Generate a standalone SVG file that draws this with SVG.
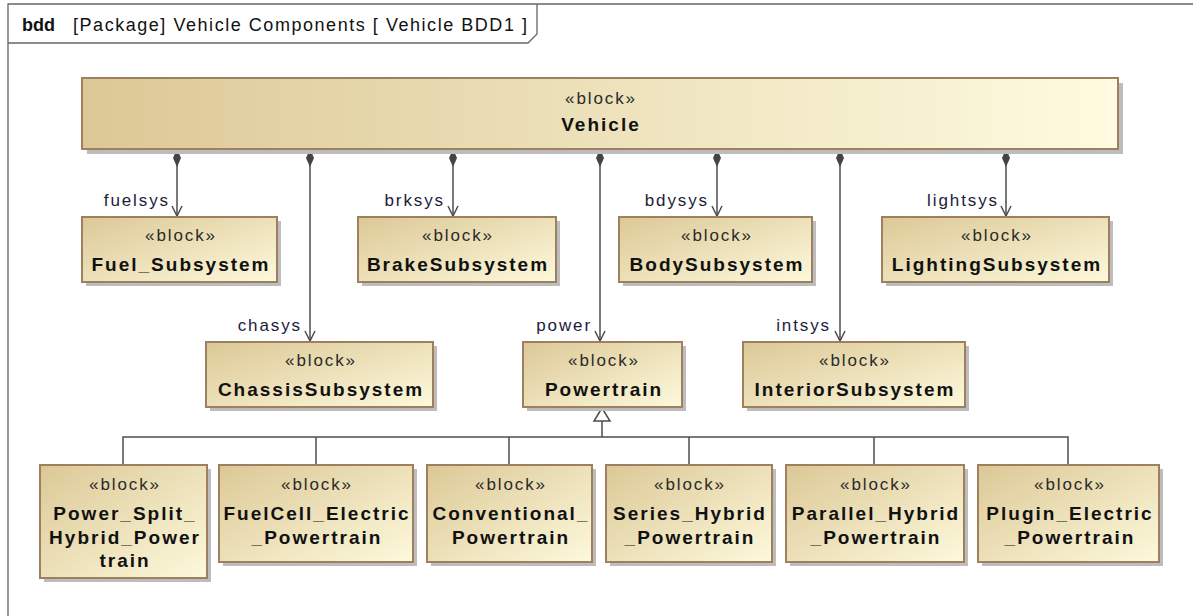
<svg xmlns="http://www.w3.org/2000/svg" width="1193" height="616" viewBox="0 0 1193 616">
<style>
.frame{fill:none;stroke:#666;stroke-width:1.3}
.blk{fill:url(#g);stroke:#9e8060;stroke-width:2}
.vblk{fill:url(#gv);stroke:#9e8060;stroke-width:2}
.sh{fill:#bdbdbd}
.st{font-family:"Liberation Sans",Arial,sans-serif;font-size:17px;fill:#2a2a2a;letter-spacing:1.9px;text-anchor:middle}
.nm{font-family:"Liberation Sans",Arial,sans-serif;font-size:19px;font-weight:bold;fill:#111;letter-spacing:2px;text-anchor:middle}
.lbl{font-family:"Liberation Sans",Arial,sans-serif;font-size:17px;fill:#1c1c38;letter-spacing:1.9px;text-anchor:end}
.hd{font-family:"Liberation Sans",Arial,sans-serif;font-size:18px;fill:#111}
.ln{stroke:#4d4d4d;stroke-width:1.5;fill:none}
.comp{marker-start:url(#dia);marker-end:url(#arr)}
</style>
<defs>
<linearGradient id="g" x1="0" y1="0" x2="1" y2="1">
<stop offset="0" stop-color="#dcc896"/>
<stop offset="1" stop-color="#fdf9dc"/>
</linearGradient>
<linearGradient id="gv" x1="0" y1="0" x2="1" y2="0">
<stop offset="0" stop-color="#dcc896"/>
<stop offset="1" stop-color="#fefbe0"/>
</linearGradient>
<marker id="dia" viewBox="0 0 18 8" refX="0" refY="4" markerWidth="18" markerHeight="8" markerUnits="userSpaceOnUse" orient="auto">
<path d="M0,4 L9,0 L18,4 L9,8 Z" fill="#444"/>
</marker>
<marker id="arr" viewBox="0 0 12 12" refX="11" refY="6" markerWidth="12" markerHeight="12" markerUnits="userSpaceOnUse" orient="auto">
<path d="M1,1 L11,6 L1,11" fill="none" stroke="#4d4d4d" stroke-width="1.5"/>
</marker>
</defs>

<g id="frame">
<path class="frame" d="M8,616 V4 H1193"/>
<path class="frame" d="M8,43 H528 L537,34 V4"/>
<text class="hd" x="22" y="31" font-weight="bold">bdd</text>
<text class="hd" x="73" y="31" textLength="454">[Package] Vehicle Components [ Vehicle BDD1 ]</text>
</g>

<g id="connectors">
<path class="ln comp" d="M177,149 V216"/>
<path class="ln comp" d="M310,149 V341"/>
<path class="ln comp" d="M453,149 V216"/>
<path class="ln comp" d="M600,149 V341"/>
<path class="ln comp" d="M717,149 V216"/>
<path class="ln comp" d="M840,149 V341"/>
<path class="ln comp" d="M1006,149 V216"/>
<text class="lbl" x="170" y="206">fuelsys</text>
<text class="lbl" x="302" y="331">chasys</text>
<text class="lbl" x="445" y="206">brksys</text>
<text class="lbl" x="592" y="331">power</text>
<text class="lbl" x="709" y="206">bdysys</text>
<text class="lbl" x="831" y="331">intsys</text>
<text class="lbl" x="999" y="206">lightsys</text>
<path class="ln" d="M602,421 V437 M123,465 V437 H1068 V465 M316,437 V465 M509,437 V465 M689,437 V465 M874,437 V465"/>
<polygon points="602,408 594,421 610,421" fill="#fff" stroke="#4d4d4d" stroke-width="1.5"/>
</g>

<g id="Vehicle">
<rect class="sh" x="87" y="83" width="1036" height="71"/>
<rect class="vblk" x="82" y="78" width="1036" height="71"/>
<text class="st" x="601" y="104">«block»</text>
<text class="nm" x="601" y="131">Vehicle</text>
</g>

<g id="Fuel_Subsystem">
<rect class="sh" x="86" y="221" width="195" height="65"/>
<rect class="blk" x="82" y="217" width="195" height="65"/>
<text class="st" x="181" y="241">«block»</text>
<text class="nm" x="181" y="271">Fuel_Subsystem</text>
</g>
<g id="BrakeSubsystem">
<rect class="sh" x="362" y="221" width="198" height="65"/>
<rect class="blk" x="358" y="217" width="198" height="65"/>
<text class="st" x="458" y="241">«block»</text>
<text class="nm" x="458" y="271">BrakeSubsystem</text>
</g>
<g id="BodySubsystem">
<rect class="sh" x="623" y="221" width="193" height="65"/>
<rect class="blk" x="619" y="217" width="193" height="65"/>
<text class="st" x="717" y="241">«block»</text>
<text class="nm" x="717" y="271">BodySubsystem</text>
</g>
<g id="LightingSubsystem">
<rect class="sh" x="886" y="221" width="227" height="65"/>
<rect class="blk" x="882" y="217" width="227" height="65"/>
<text class="st" x="997" y="241">«block»</text>
<text class="nm" x="997" y="271">LightingSubsystem</text>
</g>

<g id="ChassisSubsystem">
<rect class="sh" x="210" y="346" width="227" height="65"/>
<rect class="blk" x="206" y="342" width="227" height="65"/>
<text class="st" x="321" y="366">«block»</text>
<text class="nm" x="321" y="396">ChassisSubsystem</text>
</g>
<g id="Powertrain">
<rect class="sh" x="527" y="346" width="159" height="65"/>
<rect class="blk" x="523" y="342" width="159" height="65"/>
<text class="st" x="604" y="366">«block»</text>
<text class="nm" x="604" y="396">Powertrain</text>
</g>
<g id="InteriorSubsystem">
<rect class="sh" x="747" y="346" width="222" height="65"/>
<rect class="blk" x="743" y="342" width="222" height="65"/>
<text class="st" x="855" y="366">«block»</text>
<text class="nm" x="855" y="396">InteriorSubsystem</text>
</g>

<g id="Power_Split_Hybrid_Powertrain">
<rect class="sh" x="44" y="469" width="167" height="113"/>
<rect class="blk" x="40" y="465" width="167" height="113"/>
<text class="st" x="125" y="490">«block»</text>
<text class="nm" x="125" y="520">Power_Split_</text>
<text class="nm" x="125" y="544">Hybrid_Power</text>
<text class="nm" x="125" y="567">train</text>
</g>
<g id="FuelCell_Electric_Powertrain">
<rect class="sh" x="223" y="469" width="194" height="97"/>
<rect class="blk" x="219" y="465" width="194" height="97"/>
<text class="st" x="317" y="490">«block»</text>
<text class="nm" x="317" y="520">FuelCell_Electric</text>
<text class="nm" x="317" y="544">_Powertrain</text>
</g>
<g id="Conventional_Powertrain">
<rect class="sh" x="431" y="469" width="165" height="97"/>
<rect class="blk" x="427" y="465" width="165" height="97"/>
<text class="st" x="511" y="490">«block»</text>
<text class="nm" x="511" y="520">Conventional_</text>
<text class="nm" x="511" y="544">Powertrain</text>
</g>
<g id="Series_Hybrid_Powertrain">
<rect class="sh" x="610" y="469" width="166" height="97"/>
<rect class="blk" x="606" y="465" width="166" height="97"/>
<text class="st" x="690" y="490">«block»</text>
<text class="nm" x="690" y="520">Series_Hybrid</text>
<text class="nm" x="690" y="544">_Powertrain</text>
</g>
<g id="Parallel_Hybrid_Powertrain">
<rect class="sh" x="790" y="469" width="178" height="97"/>
<rect class="blk" x="786" y="465" width="178" height="97"/>
<text class="st" x="876" y="490">«block»</text>
<text class="nm" x="876" y="520">Parallel_Hybrid</text>
<text class="nm" x="876" y="544">_Powertrain</text>
</g>
<g id="Plugin_Electric_Powertrain">
<rect class="sh" x="982" y="469" width="181" height="97"/>
<rect class="blk" x="978" y="465" width="181" height="97"/>
<text class="st" x="1070" y="490">«block»</text>
<text class="nm" x="1070" y="520">Plugin_Electric</text>
<text class="nm" x="1070" y="544">_Powertrain</text>
</g>
</svg>
